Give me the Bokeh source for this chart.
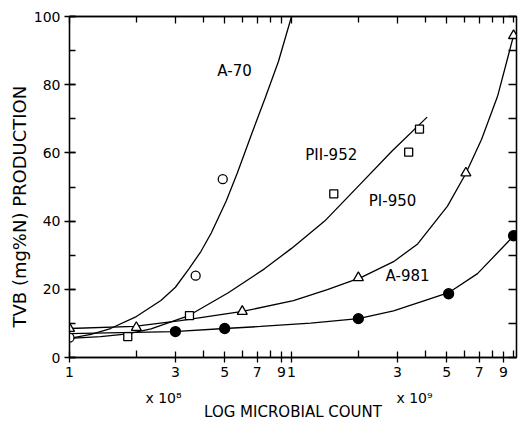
import math
from bokeh.plotting import figure
from bokeh.models import (Range1d, FixedTicker, LogAxis, LinearAxis, Label, Title,
                          SingleIntervalTicker)
from bokeh.embed import file_html
from bokeh.resources import INLINE

# ---------------- data ----------------
x_major_ticks = [1e8, 3e8, 5e8, 7e8, 9e8, 1e9, 3e9, 5e9, 7e9, 9e9]
x_major_labels = ["1", "3", "5", "7", "9", "1", "3", "5", "7", "9"]
x_minor_ticks = [2e8, 4e8, 6e8, 8e8, 2e9, 4e9, 6e9, 8e9, 1e10]
exp_label_pos = [2.65e8, 3.58e9]
exp_labels = ["x 10\u2078", "x 10\u2079"]

# A-70 (open circles)
a70_x = [1.0e8, 3.7e8, 4.9e8]
a70_y = [5.8, 24.0, 52.3]
a70_fit_x = [1.0e8, 1.25e8, 1.53e8, 2.0e8, 2.58e8, 3.0e8, 3.45e8, 3.9e8, 4.35e8, 5.08e8,
             5.70e8, 6.58e8, 7.63e8, 8.73e8, 1.0e9]
a70_fit_y = [5.6, 6.8, 8.5, 12.0, 16.7, 20.6, 26.0, 31.0, 36.5, 45.9,
             54.1, 65.2, 76.3, 86.8, 100.0]

# PII-952 (open squares)
p2_x = [1.83e8, 3.47e8, 1.55e9, 3.37e9, 3.77e9]
p2_y = [6.1, 12.3, 48.0, 60.2, 67.0]
p2_fit_x = [1.0e8, 1.38e8, 1.83e8, 2.33e8, 3.45e8, 5.19e8, 7.55e8, 1.0e9, 1.41e9,
            2.01e9, 2.83e9, 4.08e9]
p2_fit_y = [5.6, 6.1, 6.9, 8.4, 12.3, 19.0, 26.0, 32.0, 40.0, 50.4, 60.5, 70.5]

# PI-950 (open triangles)
p1_x = [1.0e8, 2.0e8, 6.0e8, 2.0e9, 6.1e9, 1.0e10]
p1_y = [8.5, 8.8, 13.5, 23.4, 54.1, 94.4]
p1_fit_x = [1.0e8, 1.96e8, 3.16e8, 6.02e8, 1.02e9, 1.45e9, 2.05e9, 2.88e9, 3.70e9,
            5.04e9, 6.08e9, 7.18e9, 8.47e9, 1.0e10]
p1_fit_y = [8.5, 9.1, 10.8, 13.5, 16.7, 19.9, 23.4, 28.1, 33.3,
            44.4, 53.8, 64.0, 76.6, 94.4]

# A-981 (filled circles)
a981_x = [3.0e8, 5.0e8, 2.0e9, 5.1e9, 1.0e10]
a981_y = [7.6, 8.5, 11.4, 18.7, 35.7]
a981_fit_x = [1.0e8, 2.94e8, 5.0e8, 7.25e8, 1.22e9, 2.0e9, 2.88e9, 4.10e9, 5.1e9,
              6.88e9, 1.0e10]
a981_fit_y = [7.0, 7.6, 8.5, 9.1, 10.1, 11.4, 13.7, 17.0, 19.0, 24.6, 35.6]

FONT = "DejaVu Sans"
LW = 1.3
X_END = 1.031e10

p = figure(width=525, height=423, x_axis_type="log",
           x_range=Range1d(1e8, X_END), y_range=Range1d(0, 100),
           output_backend="svg", toolbar_location=None)
p.min_border_left = 69
p.min_border_right = 9
p.min_border_top = 16
p.min_border_bottom = 66
p.xgrid.visible = False
p.ygrid.visible = False
p.outline_line_color = "black"
p.outline_line_width = LW
p.background_fill_color = "white"
p.border_fill_color = "white"

# bottom axis
xa = p.below[0]
xa.ticker = FixedTicker(ticks=x_major_ticks, minor_ticks=x_minor_ticks)
xa.major_label_overrides = {t: l for t, l in zip(x_major_ticks, x_major_labels)}
xa.major_label_text_font = FONT
xa.major_label_text_font_size = "14px"
xa.major_label_text_color = "black"
xa.major_label_standoff = 4
xa.major_tick_in = 6
xa.major_tick_out = 5
xa.minor_tick_in = 7
xa.minor_tick_out = 0
xa.axis_line_width = LW
xa.major_tick_line_width = LW
xa.minor_tick_line_width = LW
xa.axis_line_color = "black"
xa.major_tick_line_color = "black"
xa.minor_tick_line_color = "black"

# second bottom axis carrying the exponent labels and the axis title
xa2 = LogAxis(ticker=FixedTicker(ticks=exp_label_pos, minor_ticks=[]),
              major_label_overrides={t: l for t, l in zip(exp_label_pos, exp_labels)},
              major_label_text_font=FONT, major_label_text_font_size="14px",
              major_label_text_color="black", major_label_standoff=10,
              axis_line_color=None, major_tick_line_color=None, minor_tick_line_color=None,
              major_tick_out=0, major_tick_in=0,
              axis_label="LOG MICROBIAL COUNT", axis_label_text_font=FONT,
              axis_label_text_font_size="15px", axis_label_text_font_style="normal",
              axis_label_text_color="black", axis_label_standoff=-6)
p.add_layout(xa2, "below")

# left axis
ya = p.left[0]
ya.ticker = SingleIntervalTicker(interval=20, num_minor_ticks=2)
ya.major_label_text_font = FONT
ya.major_label_text_font_size = "14px"
ya.major_label_text_color = "black"
ya.major_label_standoff = 4
ya.major_tick_in = 6
ya.major_tick_out = 5
ya.minor_tick_in = 6
ya.minor_tick_out = 0
ya.axis_line_width = LW
ya.major_tick_line_width = LW
ya.minor_tick_line_width = LW
ya.axis_line_color = "black"
ya.major_tick_line_color = "black"
ya.minor_tick_line_color = "black"

# top axis: inward ticks only, labels not drawn
top = LogAxis(ticker=FixedTicker(ticks=x_major_ticks, minor_ticks=x_minor_ticks),
              major_label_text_color=None, major_label_text_font_size="1px",
              major_label_standoff=0,
              major_tick_in=7, major_tick_out=0, minor_tick_in=6, minor_tick_out=0,
              axis_line_color="black", major_tick_line_color="black",
              minor_tick_line_color="black",
              axis_line_width=LW, major_tick_line_width=LW, minor_tick_line_width=LW)
p.add_layout(top, "above")

# right axis: inward ticks only, labels not drawn
right = LinearAxis(ticker=SingleIntervalTicker(interval=10, num_minor_ticks=0),
                   major_label_text_color=None, major_label_text_font_size="1px",
                   major_label_standoff=0,
                   major_tick_in=8, major_tick_out=0, minor_tick_in=0, minor_tick_out=0,
                   axis_line_color="black", major_tick_line_color="black",
                   axis_line_width=LW, major_tick_line_width=LW)
p.add_layout(right, "right")

# y title on the left side
p.add_layout(Title(text="TVB (mg%N) PRODUCTION", align="left", offset=30,
                   text_font=FONT, text_font_size="18px", text_font_style="normal",
                   text_color="black", standoff=2), "left")

# fitted curves
for fx, fy in [(a70_fit_x, a70_fit_y), (p2_fit_x, p2_fit_y),
               (p1_fit_x, p1_fit_y), (a981_fit_x, a981_fit_y)]:
    p.line(fx, fy, line_color="black", line_width=LW)

# markers
p.scatter(a70_x, a70_y, marker="circle", size=9, fill_color="white",
          line_color="black", line_width=LW)
p.scatter(p2_x, p2_y, marker="square", size=8, fill_color="white",
          line_color="black", line_width=LW)
p.scatter(p1_x, p1_y, marker="triangle", size=10, fill_color="white",
          line_color="black", line_width=LW)
p.scatter(a981_x, a981_y, marker="circle", size=10, fill_color="black",
          line_color="black", line_width=LW)

# curve labels (data units)
for txt, lx, ly in [("A-70", 5.54e8, 83.9), ("PII-952", 1.51e9, 59.4),
                    ("PI-950", 2.85e9, 45.9), ("A-981", 3.33e9, 24.0)]:
    p.add_layout(Label(x=lx, y=ly, text=txt, text_font=FONT, text_font_size="15px",
                       text_align="center", text_baseline="middle", text_color="black"))

open("out.html", "w").write(file_html(p, INLINE))
